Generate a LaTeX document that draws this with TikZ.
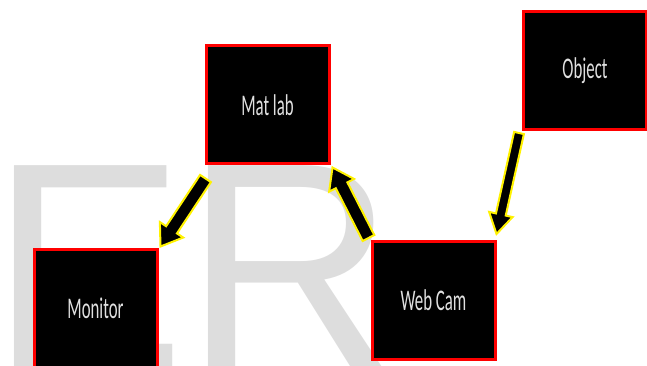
\documentclass[tikz,border=0pt]{standalone}
\usepackage{fontspec}
\usetikzlibrary{calc}
\newfontfamily\boxfont{Carlito}[FakeStretch=0.56]
\newfontfamily\markfont{Liberation Sans}

\tikzset{
    blockbox/.style={draw=red, fill=black, line width=3pt, inner sep=0pt,
        minimum width=123pt, minimum height=118pt,
        text=white!88!black, font=\boxfont\fontsize{30}{30}\selectfont},
    arrowbody/.style={fill=black, draw=yellow, line width=2pt, line join=miter}
}

% tail, tip, half shaft, half head, head length
\newcommand{\fatarrow}[5]{%
    \coordinate (hb) at ($(#2)!#5!(#1)$);
    \filldraw[arrowbody] ($(#1)!#3!90:(#2)$) -- ($(hb)!#3!90:(#2)$) -- ($(hb)!#4!90:(#2)$)
        -- (#2) -- ($(hb)!#4!-90:(#2)$) -- ($(hb)!#3!-90:(#2)$) -- ($(#1)!#3!-90:(#2)$) -- cycle;
}

\begin{document}
\begin{tikzpicture}[x=1pt, y=-1pt]
        \useasboundingbox (0, 0) rectangle (647, 366);
        \clip (0, 0) rectangle (647, 366);
        \node[anchor=base west, inner sep=0pt, text=gray!27,
            font=\markfont\fontsize{292}{292}\selectfont] (mark) at (-10, 366) {ER};
        \node[blockbox] (matlab) at (267.5, 105) {Mat lab};
        \node[blockbox] (object) at (585, 70.5) {Object};
        \node[blockbox] (monitor) at (95.5, 308) {Monitor};
        \node[blockbox] (webcam) at (433.5, 300.5) {Web Cam};
        \coordinate (mlTail) at ($(matlab.south west)+(1, 13)$);
        \coordinate (moTip) at ($(monitor.north east)+(2, -1)$);
        \coordinate (wcTail) at ($(webcam.north west)+(-2, -2)$);
        \coordinate (mlTip) at ($(matlab.south east)+(2, 2)$);
        \coordinate (obTail) at ($(object.south west)+(-3, 2)$);
        \coordinate (wcTip) at ($(webcam.north east)+(0, -6)$);
        \fatarrow{mlTail}{moTip}{6.5pt}{14pt}{20pt}
        \fatarrow{wcTail}{mlTip}{6.5pt}{14pt}{20pt}
        \fatarrow{obTail}{wcTip}{5pt}{12pt}{20pt}
    \end{tikzpicture}
\end{document}
